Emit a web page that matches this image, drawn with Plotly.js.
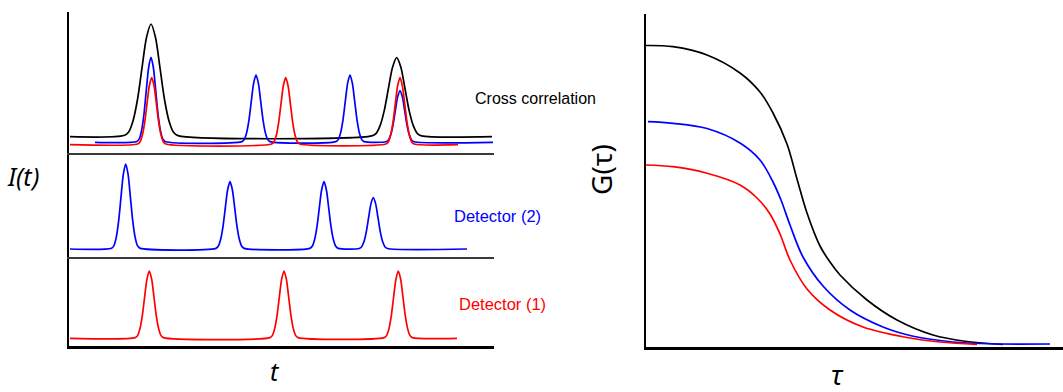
<!DOCTYPE html>
<html>
<head>
<meta charset="utf-8">
<script src="https://cdn.plot.ly/plotly-3.0.1.min.js"></script>
<style>html,body{margin:0;padding:0;background:#fff;}#chart{width:1063px;height:392px;}</style>
</head>
<body>
<div id="chart"></div>
<script>
// ---- Left panel: photon bursts, time t (arbitrary units) ----
// Peak profile (offset in peak widths, relative level)
const peakShapeOffset = [-3, -2.5, -2, -1.5, -1, -0.5, 0, 0.5, 1, 1.5, 2, 2.5, 3];
const peakShapeLevel  = [0.01, 0.04, 0.14, 0.33, 0.61, 0.88, 1, 0.88, 0.61, 0.33, 0.14, 0.04, 0.01];

// Detector (1) – bottom strip
const det1Base = 7.7, det1Start = 1, det1End = 388, det1Width = 4.7;
const det1Centers = [80.3, 215, 329.3];
const det1Tops    = [75, 75, 75];

// Detector (2) – middle strip
const det2Base = 8, det2Start = 1, det2End = 398, det2Width = 4.7;
const det2Centers = [56.7, 161, 255, 304.3];
const det2Tops    = [93, 75.3, 75.3, 59.3];

// Cross correlation strip – shifted detector 2 (blue), detector 1 (red), product (black)
const crossBlueBase = 10.7, crossBlueStart = 26, crossBlueEnd = 424, crossBlueWidth = 4.7;
const crossBlueCenters = [82, 187, 281, 331];
const crossBlueTops    = [95.7, 78, 78, 62.3];

const crossRedBase = 8.3, crossRedStart = 1, crossRedEnd = 389, crossRedWidth = 4.7;
const crossRedCenters = [82.7, 216.7, 331];
const crossRedTops    = [75.3, 75.3, 75.3];

const crossBlackBase = 16.3, crossBlackStart = 1, crossBlackEnd = 423;
const crossBlackCenters = [82, 327.7];
const crossBlackTops    = [129, 95.3];
const crossBlackWidths  = [9, 8.3];

// ---- Right panel: correlation curves G(tau) ----
const gBlackTau = [0, 27, 61, 94, 114, 127, 141, 151, 161, 174, 184, 194, 221, 251, 287, 321, 357];
const gBlackVal = [301.5, 300.3, 292, 274, 255, 234, 203, 168, 134, 101, 85, 72, 47, 27, 12, 5.5, 2.5];
const gBlueTau  = [2, 27, 61, 94, 114, 127, 135, 144, 157, 177, 204, 237, 264, 294, 321, 354, 404];
const gBlueVal  = [225.3, 223.7, 218.5, 204, 187, 165, 147, 122, 90, 61, 37, 20, 11.5, 6.5, 4, 3, 3];
const gRedTau   = [0, 27, 61, 94, 111, 124, 134, 144, 161, 184, 217, 261, 294, 331];
const gRedVal   = [182, 180.3, 173.7, 162, 149, 133, 113, 87, 58, 37, 20, 9.5, 5, 2.7];

// Build a burst trace from its read values
function burst(base, start, end, centers, tops, widths) {
  const xs = [start], ys = [base];
  centers.forEach((c, i) => {
    const w = Array.isArray(widths) ? widths[i] : widths;
    const h = tops[i] - base;
    peakShapeOffset.forEach((o, k) => {
      xs.push(c + o * w);
      ys.push(base + peakShapeLevel[k] * h);
    });
  });
  xs.push(end); ys.push(base);
  return {x: xs, y: ys};
}

const RED = '#ff0000', BLUE = '#0000ff', BLACK = '#000000';
const lw = 1.7;

function lineTrace(d, color, xa, ya, smooth) {
  return {
    x: d.x, y: d.y, xaxis: xa, yaxis: ya, type: 'scatter', mode: 'lines',
    line: {color: color, width: lw, shape: 'spline', smoothing: smooth},
    hoverinfo: 'skip', showlegend: false
  };
}

const d1 = burst(det1Base, det1Start, det1End, det1Centers, det1Tops, det1Width);
const d2 = burst(det2Base, det2Start, det2End, det2Centers, det2Tops, det2Width);
const cb = burst(crossBlueBase, crossBlueStart, crossBlueEnd, crossBlueCenters, crossBlueTops, crossBlueWidth);
const cr = burst(crossRedBase, crossRedStart, crossRedEnd, crossRedCenters, crossRedTops, crossRedWidth);
const ck = burst(crossBlackBase, crossBlackStart, crossBlackEnd, crossBlackCenters, crossBlackTops, crossBlackWidths);

const data = [
  lineTrace(ck, BLACK, 'x3', 'y3', 0.8),
  lineTrace(cb, BLUE, 'x3', 'y3', 0.8),
  lineTrace(cr, RED, 'x3', 'y3', 0.8),
  lineTrace(d2, BLUE, 'x2', 'y2', 0.8),
  lineTrace(d1, RED, 'x', 'y', 0.8),
  lineTrace({x: gBlackTau, y: gBlackVal}, BLACK, 'x4', 'y4', 1),
  lineTrace({x: gBlueTau, y: gBlueVal}, BLUE, 'x4', 'y4', 1),
  lineTrace({x: gRedTau, y: gRedVal}, RED, 'x4', 'y4', 1)
];

const W = 1063, H = 392;
const px = v => v / W;
const py = v => 1 - v / H;

const hidden = {showgrid: false, zeroline: false, showticklabels: false, ticks: ''};
const leftDomain = [px(69), px(494)];

const layout = {
  width: W, height: H,
  margin: {l: 0, r: 0, t: 0, b: 0},
  paper_bgcolor: '#fff', plot_bgcolor: 'rgba(0,0,0,0)',
  showlegend: false,
  font: {family: 'Liberation Sans, Arial, sans-serif'},
  // bottom strip (Detector 1)
  xaxis: Object.assign({}, hidden, {domain: leftDomain, range: [0, 425], anchor: 'y',
    showline: true, linecolor: '#000', linewidth: 2.5}),
  yaxis: Object.assign({}, hidden, {domain: [py(346), py(257)], range: [0, 89], anchor: 'x',
    showline: true, linecolor: '#000', linewidth: 2.5}),
  // middle strip (Detector 2)
  xaxis2: Object.assign({}, hidden, {domain: leftDomain, range: [0, 425], anchor: 'y2',
    showline: true, linecolor: '#3a3a3a', linewidth: 1.5}),
  yaxis2: Object.assign({}, hidden, {domain: [py(257), py(153)], range: [0, 104], anchor: 'x2',
    showline: true, linecolor: '#000', linewidth: 2.5}),
  // top strip (Cross correlation)
  xaxis3: Object.assign({}, hidden, {domain: leftDomain, range: [0, 425], anchor: 'y3',
    showline: true, linecolor: '#3a3a3a', linewidth: 1.5}),
  yaxis3: Object.assign({}, hidden, {domain: [py(153), py(12)], range: [0, 141], anchor: 'x3',
    showline: true, linecolor: '#000', linewidth: 2.5}),
  // right panel
  xaxis4: Object.assign({}, hidden, {domain: [px(646), 1], range: [0, 417], anchor: 'y4',
    showline: true, linecolor: '#000', linewidth: 2.5}),
  yaxis4: Object.assign({}, hidden, {domain: [py(347), py(14)], range: [0, 333], anchor: 'x4',
    showline: true, linecolor: '#000', linewidth: 2.5}),
  annotations: [
    {text: 'Cross correlation', x: px(535), y: py(99), xref: 'paper', yref: 'paper',
     showarrow: false, font: {size: 16, color: BLACK}, xanchor: 'center', yanchor: 'middle'},
    {text: 'Detector (2)', x: px(497.5), y: py(216), xref: 'paper', yref: 'paper',
     showarrow: false, font: {size: 16.5, color: BLUE}, xanchor: 'center', yanchor: 'middle'},
    {text: 'Detector (1)', x: px(502.5), y: py(304), xref: 'paper', yref: 'paper',
     showarrow: false, font: {size: 16.5, color: RED}, xanchor: 'center', yanchor: 'middle'},
    {text: '<i>I(t)</i>', x: px(23), y: py(176), xref: 'paper', yref: 'paper',
     showarrow: false, font: {size: 25, color: BLACK, family: 'Noto Sans, Open Sans, sans-serif'},
     xanchor: 'center', yanchor: 'middle'},
    {text: '<i>t</i>', x: px(275), y: py(371), xref: 'paper', yref: 'paper',
     showarrow: false, font: {size: 25, color: BLACK, family: 'Noto Sans, Open Sans, sans-serif'},
     xanchor: 'center', yanchor: 'middle'},
    {text: 'G(τ)', x: px(601), y: py(170), xref: 'paper', yref: 'paper', textangle: -90,
     showarrow: false, font: {size: 28, color: BLACK, family: 'Noto Sans, Open Sans, sans-serif'},
     xanchor: 'center', yanchor: 'middle'},
    {text: '<i>τ</i>', x: px(837), y: py(374), xref: 'paper', yref: 'paper',
     showarrow: false, font: {size: 27, color: BLACK, family: 'Noto Sans, Open Sans, sans-serif'},
     xanchor: 'center', yanchor: 'middle'}
  ]
};

Plotly.newPlot('chart', data, layout, {staticPlot: true, displayModeBar: false});
</script>
</body>
</html>
